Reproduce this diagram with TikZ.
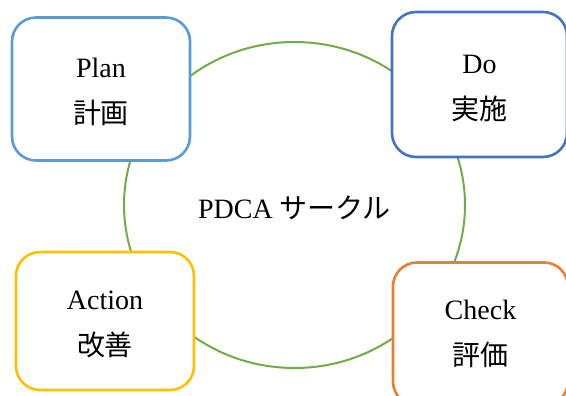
\documentclass[tikz,border=0pt]{standalone}
\usepackage{fontspec}
\setmainfont{Liberation Serif}
\newfontfamily\cjk{Noto Sans CJK JP}
\usepackage{tikz}
\usetikzlibrary{
  positioning,
  shapes.geometric
}
\definecolor{planborder}{RGB}{91,155,213}
\definecolor{doborder}{RGB}{68,114,196}
\definecolor{checkborder}{RGB}{237,125,49}
\definecolor{actborder}{RGB}{255,192,0}
\definecolor{cycleline}{RGB}{112,173,71}
\tikzset{
  stagebox/.style={
    fill=white, rounded corners=24pt, line width=2.6pt,
    minimum width=176pt, minimum height=143pt,
    font=\fontsize{28}{46}\selectfont, align=center
  },
  cyclenode/.style={
    ellipse, draw=cycleline, line width=2pt,
    minimum width=341pt, minimum height=326pt, inner sep=0pt,
    font=\fontsize{28}{32}\selectfont
  }
}

\begin{document}
\begin{tikzpicture}[x=1pt, y=-1pt]
    \useasboundingbox (0,0) rectangle (566,396);

    \node[cyclenode] (cycle) at (294.5,205) {\rule{0pt}{29pt}PDCA {\cjk サークル}};

    \node[stagebox, draw=planborder, minimum width=178pt] (plan) at (101,89) {
      \rule{0pt}{26pt}Plan\\
      {\cjk 計画}
    };
    \node[stagebox, draw=doborder, minimum width=175pt, minimum height=145pt] (do) at (479.5,84.5) {
      \rule{0pt}{26pt}Do\\
      {\cjk 実施}
    };
    \node[stagebox, draw=checkborder, minimum width=175pt, minimum height=143pt] (check) at (480.5,334) {
      Check\\
      {\cjk 評価}
    };
    \node[stagebox, draw=actborder, minimum width=178pt, minimum height=138pt] (act) at (105,321) {
      \rule{0pt}{26pt}Action\\
      {\cjk 改善}
    };

  \end{tikzpicture}
\end{document}
